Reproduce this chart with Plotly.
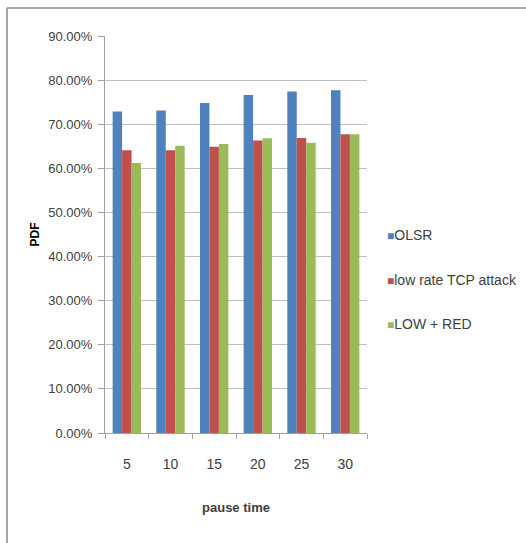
import plotly.graph_objects as go

# Pause time (s) and packet delivery fraction for each scheme
pause_time = ["5", "10", "15", "20", "25", "30"]
olsr = [0.729, 0.731, 0.748, 0.766, 0.774, 0.777]
low_rate_tcp = [0.641, 0.641, 0.649, 0.663, 0.669, 0.677]
low_red = [0.612, 0.651, 0.655, 0.668, 0.658, 0.677]
y_ticks = [0.0, 0.1, 0.2, 0.3, 0.4, 0.5, 0.6, 0.7, 0.8, 0.9]

series = [
    ("OLSR", olsr, "#4F81BD"),
    ("low rate TCP attack", low_rate_tcp, "#C0504D"),
    ("LOW + RED", low_red, "#9BBB59"),
]

W, H = 526, 543
L, R, T, B = 105, 367, 36, 433  # plot area in pixels

sans = "Liberation Sans, Arial, sans-serif"
txt = "#404040"

fig = go.Figure()
for name, vals, col in series:
    fig.add_trace(go.Bar(x=pause_time, y=vals, name=name, marker_color=col,
                         marker_line_width=0, showlegend=False))


def px(x):
    return (x - L) / (R - L)


def py(y):
    return (B - y) / (B - T)


# Legend drawn as colored squares + labels
legend_y = [235, 280, 324]
annotations = []
for (name, _, col), yy in zip(series, legend_y):
    annotations.append(dict(
        x=px(385), y=py(yy), xref="paper", yref="paper",
        xanchor="left", yanchor="middle", showarrow=False,
        text=f"<span style='color:{col};font-size:12px'>■</span>{name}",
        font=dict(family=sans, size=14, color=txt),
    ))

# Outer chart frame (left and top edges)
shapes = [
    dict(type="line", xref="paper", yref="paper", x0=px(7), x1=px(7),
         y0=py(8), y1=py(H + 5), line=dict(color="#A6A6A6", width=2)),
    dict(type="line", xref="paper", yref="paper", x0=px(7), x1=px(W + 5),
         y0=py(8), y1=py(8), line=dict(color="#A6A6A6", width=2)),
]

fig.update_layout(
    width=W, height=H,
    margin=dict(l=L, r=W - R, t=T, b=H - B),
    paper_bgcolor="white", plot_bgcolor="white",
    barmode="group", bargap=0.35, bargroupgap=0,
    annotations=annotations, shapes=shapes,
    xaxis=dict(
        type="category", tickson="boundaries", ticks="outside", ticklen=5,
        tickcolor="#A0A0A0", showline=True, linecolor="#A0A0A0", linewidth=1,
        showgrid=False, ticklabelstandoff=18,
        tickfont=dict(family=sans, size=14, color=txt),
        title=dict(text="<b>pause time</b>", standoff=32,
                   font=dict(family=sans, size=13, color=txt)),
    ),
    yaxis=dict(
        range=[0, 0.9], tickvals=y_ticks, tickformat=".2%",
        ticks="outside", ticklen=6, tickcolor="#A0A0A0",
        showline=True, linecolor="#A0A0A0", linewidth=1,
        showgrid=True, gridcolor="#BFBFBF", gridwidth=1,
        zeroline=False, ticklabelstandoff=3,
        tickfont=dict(family=sans, size=13, color=txt),
        title=dict(text="<b>PDF</b>", standoff=6,
                   font=dict(family=sans, size=12, color="black")),
    ),
)

fig.write_html("out.html")
